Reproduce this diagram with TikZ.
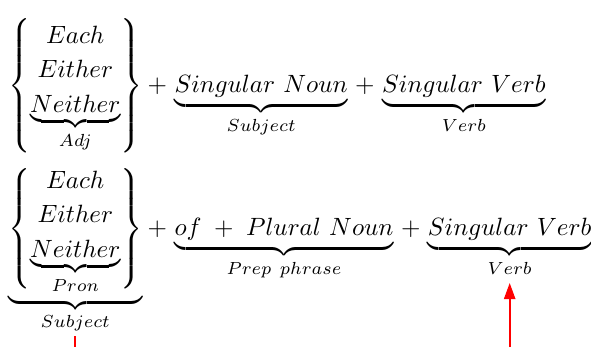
\documentclass[tikz,border=0pt]{standalone}
\usepackage{amsmath}
\usetikzlibrary{arrows.meta,positioning}

\tikzset{
  term/.style={inner sep=0pt, outer sep=0pt},
  pointer/.style={red, line width=0.8pt},
}
% the three determiners in a big brace
\newcommand{\detgroup}[1]{\left\{\renewcommand{\arraystretch}{1.15}\begin{array}{@{}c@{}}Each\\ Either\\ \underbrace{Neither}_{#1}\end{array}\right\}}

\begin{document}
\begin{tikzpicture}[x=0.4pt, y=-0.4pt, node distance=3pt]
    \useasboundingbox (0,0) rectangle (591,347);

    % Each/Either/Neither as adjective
    \node[term, anchor=base west] (grpA) at (8,92) {$\detgroup{Adj}$};
    \node[term, base right=2pt of grpA] (plusA) {$+$};
    \node[term, base right=of plusA] (nounA) {$\underbrace{Singular\ Noun}_{Subject}$};
    \node[term, base right=of nounA] (plusAA) {$+$};
    \node[term, base right=of plusAA] (vrbA) {$\underbrace{Singular\ Verb}_{Verb}$};

    % Each/Either/Neither as pronoun
    \node[term, anchor=base west] (grpB) at (8,235) {$\underbrace{\detgroup{Pron}}_{Subject}$};
    \node[term, base right=2pt of grpB] (plusB) {$+$};
    \node[term, base right=of plusB] (prepB) {$\underbrace{of\enspace{+}\enspace Plural\ Noun}_{Prep\ phrase}$};
    \node[term, base right=of prepB] (plusBB) {$+$};
    \node[term, base right=of plusBB] (vrbB) {$\underbrace{Singular\ Verb}_{Verb}$};

    % red pointers
    \coordinate (subjfoot) at (grpB.south |- 0,347);
    \coordinate (vrbfoot) at (vrbB.south |- 0,347);
    \draw[pointer] ([yshift=-1pt]grpB.south) -- (subjfoot);
    \draw[pointer, -{Triangle[width=4.5pt, length=6.5pt]}] (vrbfoot) -- ([yshift=-2.5pt]vrbB.south);
\end{tikzpicture}
\end{document}
